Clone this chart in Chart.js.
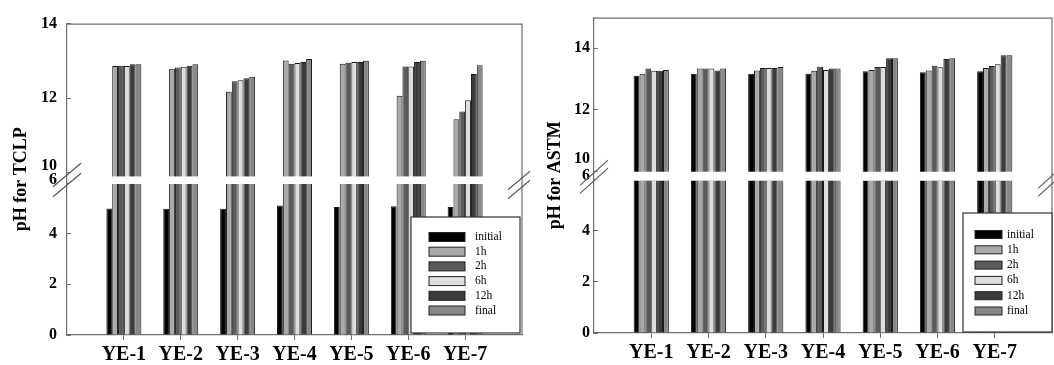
<!DOCTYPE html>
<html><head><meta charset="utf-8">
<script src="https://cdn.jsdelivr.net/npm/chart.js@4.4.1/dist/chart.umd.min.js"></script>
<style>
html,body{margin:0;padding:0;background:#fff;}
#wrap{position:relative;width:1054px;height:365px;overflow:hidden;background:#fff;}
canvas{position:absolute;top:0;}
</style></head><body>
<div id="wrap">
<canvas id="tclp" width="530" height="365" style="left:0px"></canvas>
<canvas id="astm" width="524" height="365" style="left:530px"></canvas>
</div>
<script>
// ---------- data ----------
const categories = ['YE-1','YE-2','YE-3','YE-4','YE-5','YE-6','YE-7'];
const seriesNames = ['initial','1h','2h','6h','12h','final'];

const tclpInitial = [4.99, 4.98, 4.98, 5.11, 5.05, 5.08, 5.05];
const tclp1h      = [12.86, 12.79, 12.17, 13.01, 12.92, 12.06, 11.43];
const tclp2h      = [12.87, 12.82, 12.45, 12.92, 12.95, 12.85, 11.64];
const tclp6h      = [12.86, 12.84, 12.48, 12.94, 12.97, 12.85, 11.94];
const tclp12h     = [12.91, 12.87, 12.53, 12.97, 12.97, 12.97, 12.65];
const tclpFinal   = [12.91, 12.91, 12.57, 13.05, 13.00, 13.00, 12.88];

const astmInitial = [13.11, 13.17, 13.17, 13.17, 13.25, 13.22, 13.25];
const astm1h      = [13.17, 13.34, 13.28, 13.27, 13.29, 13.28, 13.36];
const astm2h      = [13.34, 13.34, 13.36, 13.40, 13.39, 13.43, 13.42];
const astm6h      = [13.27, 13.34, 13.36, 13.29, 13.39, 13.38, 13.48];
const astm12h     = [13.27, 13.28, 13.36, 13.34, 13.68, 13.65, 13.77];
const astmFinal   = [13.29, 13.34, 13.39, 13.34, 13.68, 13.68, 13.77];

const lowerTicks = [0, 2, 4, 6];
const upperTicks = [10, 12, 14];
const LOWER_MAX = 6;

// ---------- styles ----------
const seriesColors = ['#000000', '#a9a9a9', '#5b5b5b', '#dedede', '#3b3b3b', '#888888'];
const SERIF = "'Liberation Serif', 'DejaVu Serif', serif";
const FRAME = '#6f6f6f';

const breakPlugin = {
  id: 'breakFrame',
  afterDatasetsDraw(chart, args, o) {
    const {ctx, chartArea: a} = chart;
    const yb = chart.scales.yLow.top;
    ctx.save();
    ctx.fillStyle = '#fff';
    ctx.fillRect(a.left + 1, yb - o.gapAbove, a.right - a.left - 2, o.gapAbove + o.gapBelow);
    ctx.restore();
  },
  afterDraw(chart, args, o) {
    const {ctx, chartArea: a} = chart;
    const yb = chart.scales.yLow.top;
    ctx.save();
    ctx.strokeStyle = FRAME; ctx.lineWidth = 1.2;
    ctx.beginPath();
    ctx.moveTo(a.left, a.top + 0.5); ctx.lineTo(a.right, a.top + 0.5); ctx.lineTo(a.right, a.bottom);
    ctx.stroke();
    // break marks
    ctx.strokeStyle = '#555'; ctx.lineWidth = 1.1;
    const mark = (x, dy) => {
      ctx.beginPath();
      ctx.moveTo(x - o.markHalf, yb + dy + o.markHalf * o.slope);
      ctx.lineTo(x + o.markHalf, yb + dy - o.markHalf * o.slope);
      ctx.stroke();
    };
    o.leftMarks.forEach(dy => mark(a.left, dy));
    o.rightMarks.forEach(dy => mark(a.right, dy));
    // legend
    const L = o.legend;
    ctx.fillStyle = '#fff';
    ctx.fillRect(L.x, L.y, L.w, L.h);
    ctx.strokeStyle = '#333'; ctx.lineWidth = 1.2;
    ctx.strokeRect(L.x, L.y, L.w, L.h);
    ctx.font = L.fontSize + 'px ' + SERIF;
    ctx.textBaseline = 'middle'; ctx.textAlign = 'left';
    for (let s = 0; s < seriesNames.length; s++) {
      const ds = chart.data.datasets[s];
      const cy = L.row0 + s * L.step;
      ctx.fillStyle = ds.backgroundColor;
      ctx.fillRect(L.sx, cy - L.sh / 2, L.sw, L.sh);
      ctx.strokeStyle = '#222'; ctx.lineWidth = 1;
      ctx.strokeRect(L.sx, cy - L.sh / 2, L.sw, L.sh);
      ctx.fillStyle = '#000';
      ctx.fillText(ds.label, L.tx, cy);
    }
    ctx.restore();
  }
};

function makeChart(id, title, series, g) {
  const datasets = [];
  series.forEach((vals, s) => {
    datasets.push({
      label: seriesNames[s], yAxisID: 'yLow', stack: 's' + s,
      backgroundColor: seriesColors[s], borderColor: '#1a1a1a', borderWidth: 1,
      data: vals.map((v, i) => ({x: i + 1, y: Math.min(v, LOWER_MAX)}))
    });
  });
  series.forEach((vals, s) => {
    datasets.push({
      label: seriesNames[s], yAxisID: 'yHigh', stack: 's' + s, base: g.highMin,
      backgroundColor: seriesColors[s], borderColor: '#1a1a1a', borderWidth: 1,
      data: vals.map((v, i) => ({x: i + 1, y: v > g.highMin ? v : null}))
    });
  });
  const tickFont = (shifts) => (ctx) => {
    const v = ctx.tick ? ctx.tick.value : null;
    const sh = (v !== null && shifts[v]) ? shifts[v] : 0;
    return {family: SERIF, size: 16, weight: 'bold', lineHeight: sh ? (2 * sh / 16) : 1.2};
  };
  const tickCb = (shifts) => (v) => shifts[v] ? [String(v), ''] : String(v);
  const yCommon = {
    type: 'linear', position: 'left', stack: 'v', stacked: false, offset: false,
    grid: {display: true, drawOnChartArea: false, tickLength: -4, tickColor: FRAME, tickWidth: 1},
    border: {display: true, color: FRAME, width: 1.2},
    afterFit: (s) => { s.width = g.yAxisWidth; }
  };
  return new Chart(document.getElementById(id), {
    type: 'bar',
    data: {datasets},
    plugins: [breakPlugin],
    options: {
      responsive: false, animation: false, devicePixelRatio: 1,
      layout: {padding: {left: 0, right: g.padRight, top: g.padTop, bottom: 0}},
      categoryPercentage: 0.615, barPercentage: 1.0,
      scales: {
        x: {
          type: 'linear', min: 0, max: 8, offset: false,
          afterBuildTicks: (a) => { a.ticks = categories.map((c, i) => ({value: i + 1})); },
          ticks: {callback: (v) => categories[v - 1], font: {family: SERIF, size: 20, weight: 'bold'},
                  color: '#000', padding: 3, maxRotation: 0, autoSkip: false},
          grid: {display: true, offset: false, drawOnChartArea: false, tickLength: 5, tickColor: FRAME},
          border: {display: true, color: FRAME, width: 1.2},
          afterFit: (s) => { s.height = g.xAxisHeight; }
        },
        yLow: Object.assign({}, yCommon, {
          stackWeight: g.lowWeight, min: 0, max: LOWER_MAX,
          afterBuildTicks: (a) => { a.ticks = lowerTicks.map(v => ({value: v})); },
          ticks: {callback: tickCb(g.lowShift), font: tickFont(g.lowShift), color: '#000',
                  padding: g.tickPad, autoSkip: false}
        }),
        yHigh: Object.assign({}, yCommon, {
          stackWeight: g.highWeight, min: g.highMin, max: g.highMax,
          afterBuildTicks: (a) => { a.ticks = upperTicks.map(v => ({value: v})); },
          ticks: {callback: tickCb(g.highShift), font: tickFont(g.highShift), color: '#000',
                  padding: g.tickPad, autoSkip: false}
        }),
        yTitle: {
          type: 'linear', position: 'left', weight: 1,
          ticks: {display: false}, grid: {display: false}, border: {display: false},
          title: {display: true, text: title, color: '#000',
                  font: {family: SERIF, size: 18, weight: 'bold'}, padding: {top: g.titlePad, bottom: 0}},
          afterFit: (s) => { s.width = g.titleWidth; }
        }
      },
      plugins: {
        legend: {display: false},
        tooltip: {enabled: false},
        title: {display: false},
        breakFrame: g.deco
      }
    }
  });
}

makeChart('tclp', 'pH for TCLP',
  [tclpInitial, tclp1h, tclp2h, tclp6h, tclp12h, tclpFinal],
  {
    highMin: 9.72, highMax: 14, highWeight: 163.3, lowWeight: 155.7,
    padTop: 16, padRight: 8, xAxisHeight: 30,
    titlePad: 10.2, titleWidth: 31.2, yAxisWidth: 35.8, tickPad: 14,
    highShift: {10: 6.6}, lowShift: {6: 3.6},
    deco: {
      gapAbove: 6.6, gapBelow: 1,
      markHalf: 14, slope: 0.84, leftMarks: [-8, 2], rightMarks: [-5, 4],
      legend: {x: 411, y: 217, w: 109, h: 116, sx: 429, sw: 36, sh: 9, row0: 237, step: 14.7, tx: 475, fontSize: 11.5}
    }
  });

makeChart('astm', 'pH for ASTM',
  [astmInitial, astm1h, astm2h, astm6h, astm12h, astmFinal],
  {
    highMin: 9.72, highMax: 15, highWeight: 164.5, lowWeight: 155.5,
    padTop: 16.5, padRight: 2, xAxisHeight: 28.5,
    titlePad: 14.7, titleWidth: 35.7, yAxisWidth: 28.3, tickPad: 8,
    highShift: {10: 12}, lowShift: {6: 4.3},
    deco: {
      gapAbove: 8, gapBelow: 1,
      markHalf: 14, slope: 0.9, leftMarks: [-7, 1], rightMarks: [-4, 4],
      legend: {x: 433, y: 213, w: 89, h: 119, sx: 445, sw: 27, sh: 8, row0: 234.5, step: 15.3, tx: 477, fontSize: 11.5}
    }
  });
</script>
</body></html>
